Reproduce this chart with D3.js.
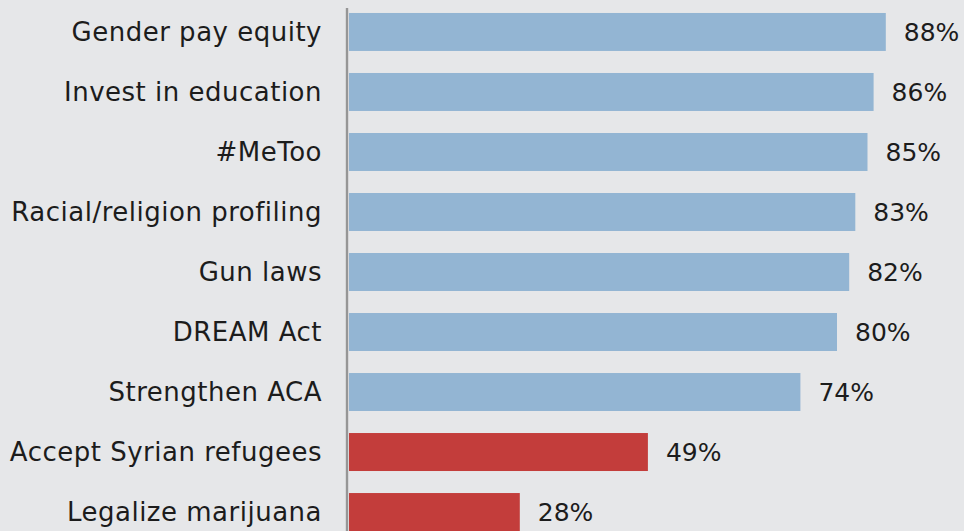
<!DOCTYPE html>
<html>
<head>
<meta charset="utf-8">
<script src="https://cdn.jsdelivr.net/npm/d3@7"></script>
<style>
  html, body { margin: 0; padding: 0; background: #e6e7e9; }
  svg { display: block; }
  text { font-family: "DejaVu Sans", sans-serif; fill: #1c1c1c; }
</style>
</head>
<body>
<svg id="chart" width="964" height="531"></svg>
<script>
const categories = [
  "Gender pay equity",
  "Invest in education",
  "#MeToo",
  "Racial/religion profiling",
  "Gun laws",
  "DREAM Act",
  "Strengthen ACA",
  "Accept Syrian refugees",
  "Legalize marijuana"
];
const values = [88, 86, 85, 83, 82, 80, 74, 49, 28];
const groups = ["blue", "blue", "blue", "blue", "blue", "blue", "blue", "red", "red"];

const colors = { blue: "#93b5d3", red: "#c33d3b" };

const width = 964, height = 531;
const left = 349;

const svg = d3.select("#chart");

svg.append("rect").attr("width", width).attr("height", height).attr("fill", "#e6e7e9");

const x = d3.scaleLinear().domain([0, 100]).range([left, left + 610]);
const y = d3.scaleBand().domain(categories).range([2, 542])
  .paddingInner(0.367).paddingOuter(0.183);

const rows = categories.map((c, i) => ({ c, v: values[i], g: groups[i] }));

svg.selectAll("rect.bar").data(rows).join("rect")
  .attr("class", "bar")
  .attr("x", x(0))
  .attr("y", d => y(d.c))
  .attr("width", d => x(d.v) - x(0))
  .attr("height", y.bandwidth())
  .attr("fill", d => colors[d.g]);

svg.selectAll("text.val").data(rows).join("text")
  .attr("class", "val")
  .attr("x", d => x(d.v) + 18)
  .attr("y", d => y(d.c) + y.bandwidth() / 2)
  .attr("dy", "0.36em")
  .attr("font-size", 25)
  .text(d => d.v + "%");

// category axis on the left
const axis = svg.append("g").attr("transform", `translate(${left - 2},0)`)
  .call(d3.axisLeft(y).tickSize(0).tickPadding(25));
axis.select(".domain").remove();
axis.append("line").attr("x1", 0).attr("x2", 0).attr("y1", 8).attr("y2", height)
  .attr("stroke", "#969696").attr("stroke-width", 2.4);
axis.selectAll(".tick text")
  .attr("font-size", 26)
  .attr("letter-spacing", 0.5)
  .attr("dy", "0.36em")
  .attr("font-family", "'DejaVu Sans', sans-serif")
  .attr("fill", "#1c1c1c");
</script>
</body>
</html>
